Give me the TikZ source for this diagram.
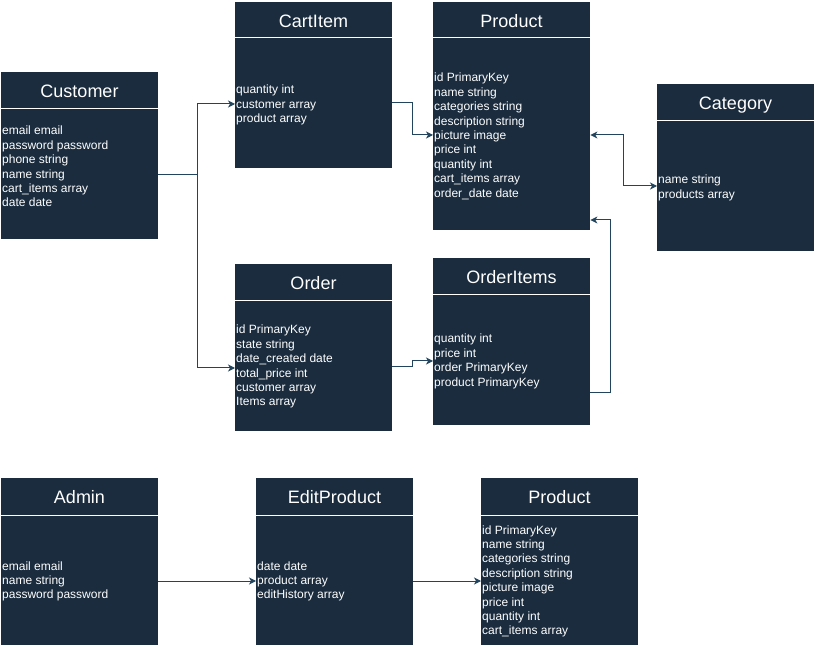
\documentclass[tikz,border=0pt]{standalone}
\usepackage{fontspec}
\setmainfont{Liberation Sans}
\usetikzlibrary{arrows.meta}
\definecolor{boxfill}{HTML}{1A2C3E}
\definecolor{edgec}{HTML}{23445D}
\tikzset{
  box/.style={fill=boxfill, draw=none, anchor=north west, minimum width=157pt, inner sep=0pt},
  ttl/.style={text=white, anchor=base, inner sep=0pt, font=\fontsize{18}{21.6}\selectfont},
  fld/.style={text=white, anchor=base west, inner sep=0pt, font=\fontsize{12}{14.4}\selectfont},
  sep/.style={draw=white, line width=1pt},
  conn/.style={draw=edgec, line width=1pt},
  tip/.style={-{Stealth[length=7pt,width=7pt,inset=2pt]}},
  tips/.style={{Stealth[length=7pt,width=7pt,inset=2pt]}-{Stealth[length=7pt,width=7pt,inset=2pt]}}
}
\begin{document}
\begin{tikzpicture}[x=1pt,y=-1pt]
\useasboundingbox (0,0) rectangle (815,647);
% --- boxes ---
\node[box, minimum height=167pt] (cust) at (1,72) {};
\node[box, minimum height=166pt] (cart) at (235,2) {};
\node[box, minimum height=228pt] (prod) at (433,2) {};
\node[box, minimum height=167pt] (cat) at (657,84) {};
\node[box, minimum height=167pt] (ord) at (235,264) {};
\node[box, minimum height=167pt] (oitm) at (433,258) {};
\node[box, minimum height=167pt] (adm) at (1,478) {};
\node[box, minimum height=167pt] (edit) at (256,478) {};
\node[box, minimum height=167pt] (prod2) at (481,478) {};
% --- titles and separators ---
\node[ttl] (cust-t) at (79.5,97.5) {Customer};
\draw[sep] (1,109) -- (158,109);
\node[ttl] (cart-t) at (313.5,27.5) {CartItem};
\draw[sep] (235,38) -- (392,38);
\node[ttl] (prod-t) at (511.5,27.5) {Product};
\draw[sep] (433,38) -- (590,38);
\node[ttl] (cat-t) at (735.5,109.5) {Category};
\draw[sep] (657,121) -- (814,121);
\node[ttl] (ord-t) at (313.5,289.5) {Order};
\draw[sep] (235,301) -- (392,301);
\node[ttl] (oitm-t) at (511.5,283.5) {OrderItems};
\draw[sep] (433,295) -- (590,295);
\node[ttl] (adm-t) at (79.5,503.5) {Admin};
\draw[sep] (1,515) -- (158,515);
\node[ttl] (edit-t) at (334.5,503.5) {EditProduct};
\draw[sep] (256,515) -- (413,515);
\node[ttl] (prod2-t) at (559.5,503.5) {Product};
\draw[sep] (481,515) -- (638,515);
% --- fields ---
\foreach \t [count=\i from 0] in {email email, password password, phone string, name string, cart\_items array, date date}
  \node[fld] (cust-f\i) at (2,135+14.4*\i) {\t};
\foreach \t [count=\i from 0] in {quantity int, customer array, product array}
  \node[fld] (cart-f\i) at (236,94+14.4*\i) {\t};
\foreach \t [count=\i from 0] in {id PrimaryKey, name string, categories string, description string, picture image, price int, quantity int, cart\_items array, order\_date date}
  \node[fld] (prod-f\i) at (434,82+14.4*\i) {\t};
\foreach \t [count=\i from 0] in {name string, products array}
  \node[fld] (cat-f\i) at (658,184+14.4*\i) {\t};
\foreach \t [count=\i from 0] in {id PrimaryKey, state string, date\_created date, total\_price int, customer array, Items array}
  \node[fld] (ord-f\i) at (236,334+14.4*\i) {\t};
\foreach \t [count=\i from 0] in {quantity int, price int, order PrimaryKey, product PrimaryKey}
  \node[fld] (oitm-f\i) at (434,343+14.4*\i) {\t};
\foreach \t [count=\i from 0] in {email email, name string, password password}
  \node[fld] (adm-f\i) at (2,570+14.4*\i) {\t};
\foreach \t [count=\i from 0] in {date date, product array, editHistory array}
  \node[fld] (edit-f\i) at (257,570+14.4*\i) {\t};
\foreach \t [count=\i from 0] in {id PrimaryKey, name string, categories string, description string, picture image, price int, quantity int, cart\_items array}
  \node[fld] (prod2-f\i) at (482,534+14.4*\i) {\t};
% --- connector coordinates ---
\coordinate (y175) at (0,175);
\coordinate (y104) at (0,104);
\coordinate (y368) at (0,368);
\coordinate (y103) at (0,103);
\coordinate (y135) at (0,135);
\coordinate (y186) at (0,186);
\coordinate (y393) at (0,393);
\coordinate (y220) at (0,220);
\coordinate (y367) at (0,367);
\coordinate (y361) at (0,361);
\coordinate (y581) at (0,581);
% --- connectors ---
\draw[conn] (cust.east |- y175) -- (197,175);
\draw[conn,tip] (197,175) -- (197,104) -- (cart.west |- y104);
\draw[conn,tip] (197,175) -- (197,368) -- (ord.west |- y368);
\draw[conn,tip] (cart.east |- y103) -- (412,103) -- (412,135) -- (prod.west |- y135);
\draw[conn,tips] (prod.east |- y135) -- (623,135) -- (623,186) -- (cat.west |- y186);
\draw[conn,tip] (oitm.east |- y393) -- (610,393) -- (610,220) -- (prod.east |- y220);
\draw[conn,tip] (ord.east |- y367) -- (412,367) -- (412,361) -- (oitm.west |- y361);
\draw[conn,tip] (adm.east |- y581) -- (edit.west |- y581);
\draw[conn,tip] (edit.east |- y581) -- (prod2.west |- y581);
\end{tikzpicture}
\end{document}
